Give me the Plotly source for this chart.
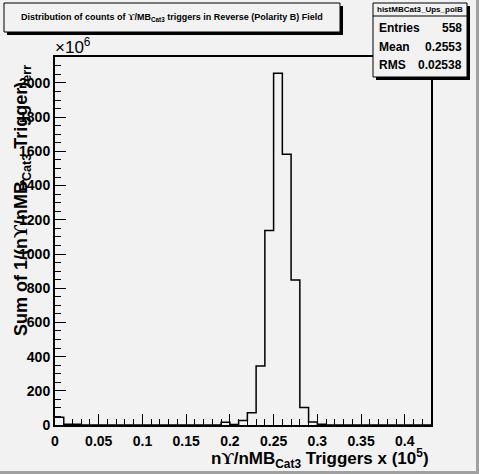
import plotly.graph_objects as go

# ---- data ----
bin_edges = [0.00, 0.01, 0.02, 0.03, 0.04, 0.05, 0.06, 0.07, 0.08, 0.09,
             0.10, 0.11, 0.12, 0.13, 0.14, 0.15, 0.16, 0.17, 0.18, 0.19,
             0.20, 0.21, 0.22, 0.23, 0.24, 0.25, 0.26, 0.27, 0.28, 0.29,
             0.30, 0.31, 0.32, 0.33, 0.34, 0.35, 0.36, 0.37, 0.38, 0.39,
             0.40, 0.41, 0.42, 0.43]
bin_counts = [45, 4, 4, 0, 0, 0, 0, 0, 0, 0,
              0, 0, 0, 0, 0, 0, 0, 0, 0, 16,
              3, 27, 72, 345, 1138, 2057, 1583, 848, 103, 18,
              4, 0, 0, 0, 0, 0, 0, 0, 0, 0,
              0, 0, 0]
x_ticks = [0, 0.05, 0.1, 0.15, 0.2, 0.25, 0.3, 0.35, 0.4]
x_tick_text = ["0", "0.05", "0.1", "0.15", "0.2", "0.25", "0.3", "0.35", "0.4"]
y_ticks = [0, 200, 400, 600, 800, 1000, 1200, 1400, 1600, 1800, 2000]
stats = [("Entries", "558"), ("Mean", "0.2553"), ("RMS", "0.02538")]
hist_name = "histMBCat3_Ups_polB"

W, H = 479, 474
L, R, T, B = 55, 431, 57, 425
BG = "#f2f2f2"
FONT = "Liberation Sans"
UPS = "<span style=\"font-family:'Liberation Serif'\">ϒ</span>"


def px(x):
    return (x - L) / (R - L)


def py(y):
    return (B - y) / (B - T)


step_x = list(bin_edges)
step_y = list(bin_counts) + [bin_counts[-1]]

fig = go.Figure()
fig.add_trace(go.Scatter(x=step_x, y=step_y, mode="lines",
                         line=dict(shape="hv", color="black", width=1.5),
                         hoverinfo="skip", showlegend=False))

fig.update_layout(
    width=W, height=H,
    margin=dict(l=L, r=W - R, t=T, b=H - B, pad=0),
    paper_bgcolor=BG, plot_bgcolor=BG,
    showlegend=False,
    xaxis=dict(range=[0, 0.43], tickvals=x_ticks, ticktext=x_tick_text,
               ticks="inside", ticklen=11, tickwidth=1, tickcolor="black",
               minor=dict(dtick=0.01, ticks="inside", ticklen=6, tickcolor="black", tickwidth=1),
               showgrid=False, zeroline=False, showline=True, linecolor="black", linewidth=2,
               mirror=True,
               tickfont=dict(family=FONT, size=14, color="black", weight="bold"),
               ticklabelstandoff=2),
    yaxis=dict(range=[0, 2152], tickvals=y_ticks,
               ticks="inside", ticklen=11, tickwidth=1, tickcolor="black",
               minor=dict(dtick=50, ticks="inside", ticklen=6, tickcolor="black", tickwidth=1),
               showgrid=False, zeroline=False, showline=True, linecolor="black", linewidth=2,
               mirror=True,
               tickfont=dict(family=FONT, size=14, color="black", weight="bold"),
               ticklabelstandoff=0),
)

shapes = []
# canvas bevel (right & bottom)
shapes.append(dict(type="rect", xref="paper", yref="paper",
                   x0=px(0), x1=px(W), y0=py(H), y1=py(H - 3),
                   fillcolor="#a0a0a0", line=dict(width=0), layer="above"))
shapes.append(dict(type="rect", xref="paper", yref="paper",
                   x0=px(W - 3), x1=px(W), y0=py(H), y1=py(0),
                   fillcolor="#a0a0a0", line=dict(width=0), layer="above"))
# title box shadow + box
shapes.append(dict(type="rect", xref="paper", yref="paper",
                   x0=px(7), x1=px(343), y0=py(35), y1=py(6),
                   fillcolor="black", line=dict(width=0), layer="above"))
shapes.append(dict(type="rect", xref="paper", yref="paper",
                   x0=px(4), x1=px(340), y0=py(32), y1=py(3),
                   fillcolor=BG, line=dict(color="black", width=1), layer="above"))
# stats box shadow + box
shapes.append(dict(type="rect", xref="paper", yref="paper",
                   x0=px(376), x1=px(470), y0=py(80), y1=py(6),
                   fillcolor="black", line=dict(width=0), layer="above"))
shapes.append(dict(type="rect", xref="paper", yref="paper",
                   x0=px(373), x1=px(467), y0=py(77), y1=py(3),
                   fillcolor=BG, line=dict(color="black", width=1), layer="above"))
shapes.append(dict(type="line", xref="paper", yref="paper",
                   x0=px(373), x1=px(467), y0=py(16), y1=py(16),
                   line=dict(color="black", width=1), layer="above"))
fig.update_layout(shapes=shapes)

ann = []
ann.append(dict(xref="paper", yref="paper", x=px(172), y=py(17.5), showarrow=False,
                text="Distribution of counts of " + UPS + "/MB<sub>Cat3</sub> triggers in Reverse (Polarity B) Field",
                font=dict(family=FONT, size=9, color="black", weight="bold"),
                xanchor="center", yanchor="middle"))
ann.append(dict(xref="paper", yref="paper", x=px(420), y=py(10), showarrow=False,
                text=hist_name, font=dict(family=FONT, size=8, color="black", weight="bold"),
                xanchor="center", yanchor="middle"))
for i, (k, v) in enumerate(stats):
    yy = 28 + i * 18.5
    ann.append(dict(xref="paper", yref="paper", x=px(377), y=py(yy), showarrow=False,
                    text=k, font=dict(family=FONT, size=12, color="black", weight="bold"),
                    xanchor="left", yanchor="middle"))
    ann.append(dict(xref="paper", yref="paper", x=px(464), y=py(yy), showarrow=False,
                    text=v, font=dict(family=FONT, size=12, color="black", weight="bold"),
                    xanchor="right", yanchor="middle"))
# exponent label
ann.append(dict(xref="paper", yref="paper", x=px(53), y=py(46), showarrow=False,
                text="×10<sup>6</sup>", font=dict(family=FONT, size=17, color="black"),
                xanchor="left", yanchor="middle"))
# axis titles
ann.append(dict(xref="paper", yref="paper", x=px(431), y=py(458), showarrow=False,
                text="n" + UPS + "/nMB<sub>Cat3</sub> Triggers x (10<sup>5</sup>)",
                font=dict(family=FONT, size=17, color="black", weight="bold"),
                xanchor="right", yanchor="middle"))
ann.append(dict(xref="paper", yref="paper", x=px(22), y=py(201), showarrow=False,
                text="Sum of 1/(n" + UPS + "/nMB<sub>Cat3</sub> Trigger)<sub>err</sub>",
                font=dict(family=FONT, size=18, color="black", weight="bold"),
                textangle=-90, xanchor="center", yanchor="middle"))
fig.update_layout(annotations=ann)

fig.write_html("out.html", config={"displayModeBar": False, "staticPlot": True},
               post_script="document.body.style.margin='0';document.body.style.overflow='hidden';")
